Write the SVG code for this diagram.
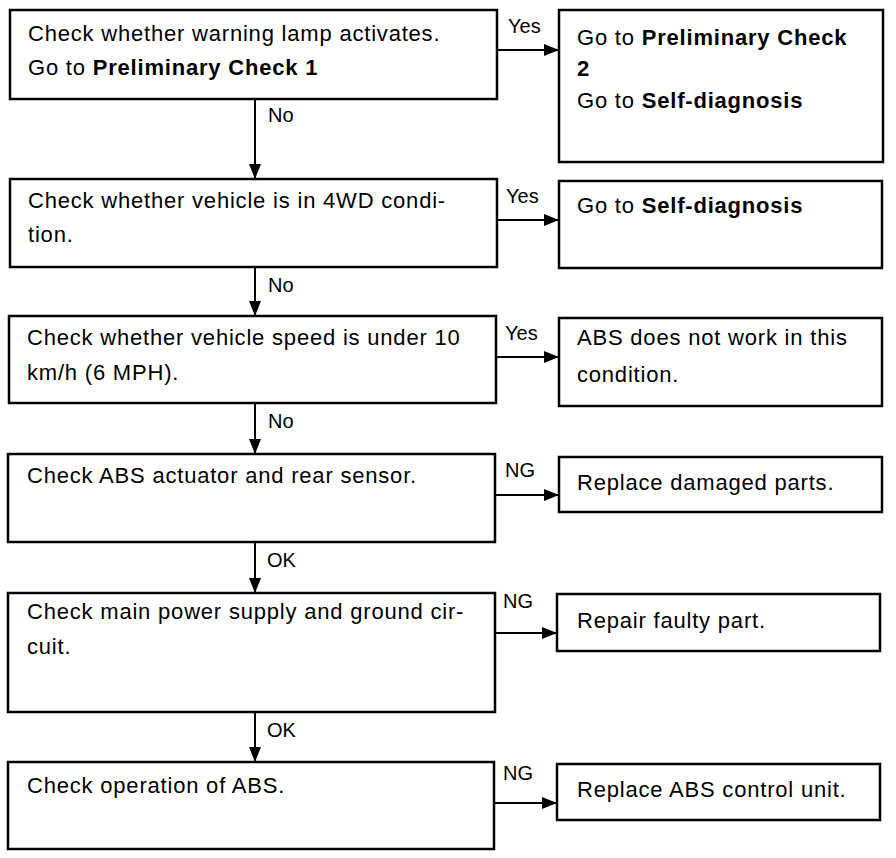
<svg xmlns="http://www.w3.org/2000/svg" width="896" height="858" viewBox="0 0 896 858">
<style>
.box{fill:#fff;stroke:#000;stroke-width:2.5}
.t{font-family:"Liberation Sans",Arial,sans-serif;font-size:22px;letter-spacing:0.8px;fill:#000}
.b{font-weight:bold}
.lbl{font-family:"Liberation Sans",Arial,sans-serif;font-size:20px;fill:#000}
.c{stroke:#000;stroke-width:2;fill:none;marker-end:url(#ah)}
</style>
<defs>
<marker id="ah" markerUnits="userSpaceOnUse" viewBox="0 0 15 12" markerWidth="15" markerHeight="12" refX="15" refY="6" orient="auto">
<path d="M0,0 L15,6 L0,12 Z" fill="#000"/>
</marker>
</defs>
<rect width="896" height="858" fill="#fff"/>
<g id="connectors">
<line class="c" x1="255" y1="99" x2="255" y2="179"/>
<line class="c" x1="255" y1="267" x2="255" y2="316"/>
<line class="c" x1="255" y1="403" x2="255" y2="454"/>
<line class="c" x1="255" y1="542" x2="255" y2="593"/>
<line class="c" x1="255" y1="712" x2="255" y2="762"/>
<line class="c" x1="497" y1="50" x2="559" y2="50"/>
<line class="c" x1="497" y1="220" x2="559" y2="220"/>
<line class="c" x1="496" y1="357" x2="559" y2="357"/>
<line class="c" x1="495" y1="495" x2="559" y2="495"/>
<line class="c" x1="495" y1="633" x2="557" y2="633"/>
<line class="c" x1="494" y1="803" x2="557" y2="803"/>
<text class="lbl" x="268" y="122">No</text>
<text class="lbl" x="268" y="292">No</text>
<text class="lbl" x="268" y="428">No</text>
<text class="lbl" x="267" y="567">OK</text>
<text class="lbl" x="267" y="737">OK</text>
<text class="lbl" x="508" y="33">Yes</text>
<text class="lbl" x="506" y="203">Yes</text>
<text class="lbl" x="505" y="340">Yes</text>
<text class="lbl" x="505" y="477">NG</text>
<text class="lbl" x="503" y="608">NG</text>
<text class="lbl" x="503" y="780">NG</text>
</g>
<g id="n1">
<rect class="box" x="10" y="10" width="487" height="89"/>
<text class="t" x="28" y="41">Check whether warning lamp activates.</text>
<text class="t" x="28" y="75">Go to <tspan class="b">Preliminary Check 1</tspan></text>
</g>
<g id="n2">
<rect class="box" x="10" y="179" width="487" height="88"/>
<text class="t" x="28" y="208">Check whether vehicle is in 4WD condi-</text>
<text class="t" x="28" y="242">tion.</text>
</g>
<g id="n3">
<rect class="box" x="9" y="316" width="487" height="87"/>
<text class="t" x="27" y="345">Check whether vehicle speed is under 10</text>
<text class="t" x="27" y="380">km/h (6 MPH).</text>
</g>
<g id="n4">
<rect class="box" x="8" y="454" width="487" height="88"/>
<text class="t" x="27" y="483">Check ABS actuator and rear sensor.</text>
</g>
<g id="n5">
<rect class="box" x="8" y="593" width="487" height="119"/>
<text class="t" x="27" y="619">Check main power supply and ground cir-</text>
<text class="t" x="27" y="654">cuit.</text>
</g>
<g id="n6">
<rect class="box" x="8" y="762" width="486" height="87"/>
<text class="t" x="27" y="793">Check operation of ABS.</text>
</g>
<g id="r1">
<rect class="box" x="559" y="10" width="324" height="152"/>
<text class="t" x="577" y="45">Go to <tspan class="b">Preliminary Check</tspan></text>
<text class="t b" x="577" y="76">2</text>
<text class="t" x="577" y="108">Go to <tspan class="b">Self-diagnosis</tspan></text>
</g>
<g id="r2">
<rect class="box" x="559" y="181" width="323" height="87"/>
<text class="t" x="577" y="213">Go to <tspan class="b">Self-diagnosis</tspan></text>
</g>
<g id="r3">
<rect class="box" x="559" y="318" width="323" height="88"/>
<text class="t" x="577" y="345">ABS does not work in this</text>
<text class="t" x="577" y="382">condition.</text>
</g>
<g id="r4">
<rect class="box" x="559" y="457" width="323" height="55"/>
<text class="t" x="577" y="490">Replace damaged parts.</text>
</g>
<g id="r5">
<rect class="box" x="557" y="594" width="323" height="57"/>
<text class="t" x="577" y="628">Repair faulty part.</text>
</g>
<g id="r6">
<rect class="box" x="557" y="764" width="323" height="56"/>
<text class="t" x="577" y="797">Replace ABS control unit.</text>
</g>
</svg>
